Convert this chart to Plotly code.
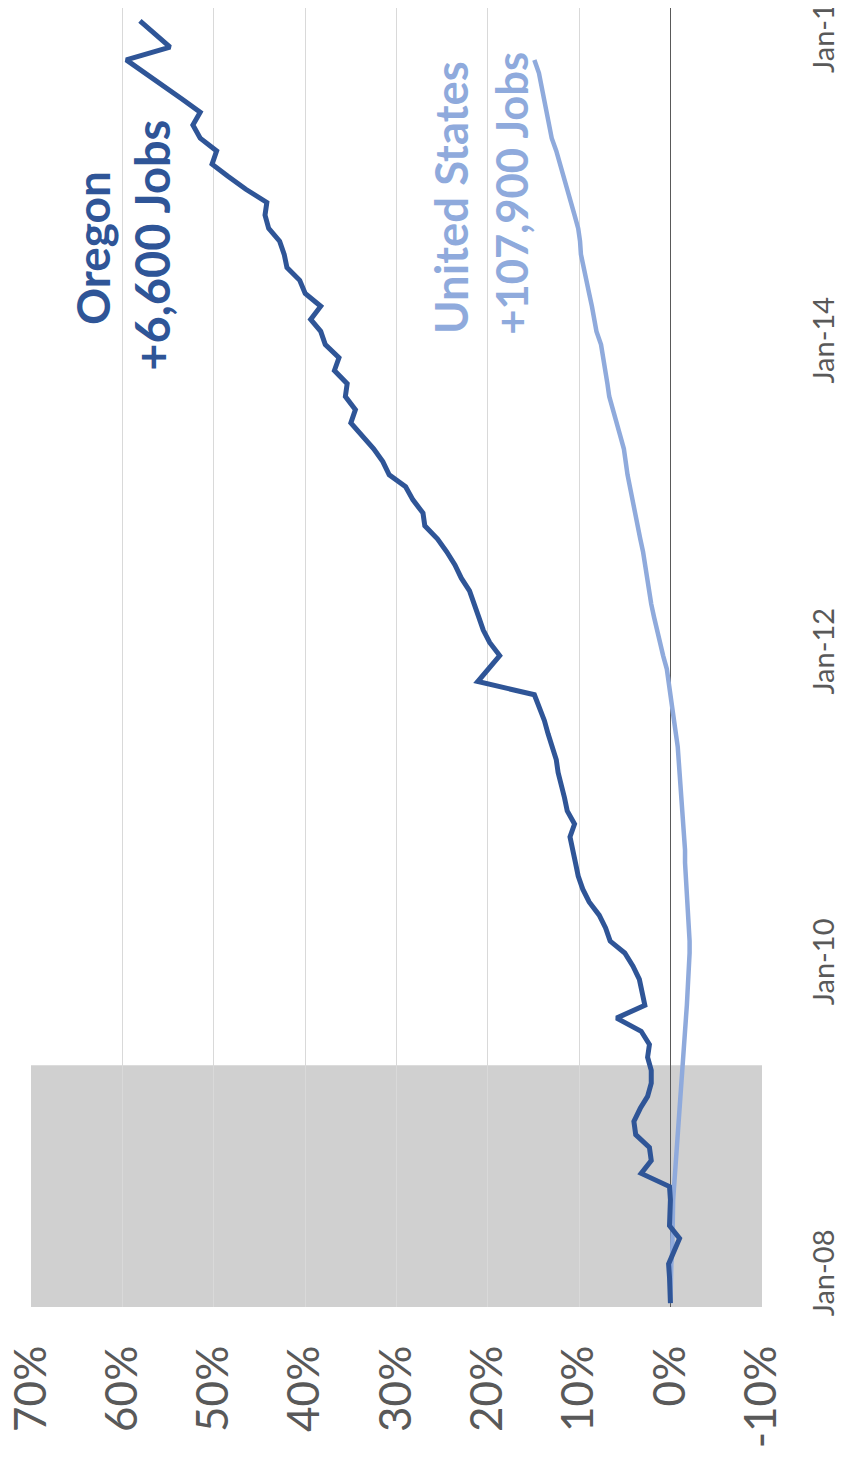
import pandas as pd
import plotly.graph_objects as go

# Monthly cumulative % change in employment (series begins Nov 2007)
oregon_start = "2007-11-01"
oregon_pct = [
    0.0, 0.0, 0.1, 0.2, -0.4, -1.0, 0.1, 0.0, 0.0, 0.1,
    3.2, 2.1, 2.3, 3.8, 4.0, 3.3, 2.5, 2.1, 2.1, 2.5,
    2.3, 3.2, 5.9, 2.8, 3.1, 3.4, 4.1, 5.0, 6.6, 7.1,
    7.8, 8.9, 9.6, 10.1, 10.4, 10.7, 11.0, 10.5, 11.3, 11.6,
    12.0, 12.3, 12.5, 13.0, 13.4, 13.8, 14.3, 14.9, 21.1, 19.9,
    18.7, 19.8, 20.5, 21.0, 21.5, 22.0, 22.9, 23.6, 24.5, 25.5,
    26.9, 27.1, 28.2, 29.0, 30.8, 31.5, 32.5, 33.8, 35.0, 34.5,
    35.6, 35.4, 36.8, 36.3, 37.8, 38.3, 39.4, 38.3, 40.0, 40.6,
    42.0, 42.3, 42.8, 44.0, 44.4, 44.2, 46.5, 48.5, 50.2, 49.7,
    51.5, 52.3, 51.5, 53.5, 55.5, 57.5, 59.6, 54.8, 56.5, 58.1,
]
us_start = "2007-11-01"
us_pct = [
    0.0, 0.0, -0.1, -0.1, -0.2, -0.2, -0.3, -0.3, -0.3, -0.4,
    -0.5, -0.5, -0.6, -0.7, -0.8, -0.9, -1.0, -1.1, -1.2, -1.3,
    -1.5, -1.6, -1.7, -1.8, -1.9, -2.0, -2.0, -2.1, -2.1, -2.0,
    -1.9, -1.8, -1.7, -1.7, -1.6, -1.6, -1.5, -1.4, -1.3, -1.3,
    -1.2, -1.1, -1.0, -0.8, -0.6, -0.4, -0.2, 0.0, 0.2, 0.4,
    0.8, 1.1, 1.4, 1.8, 2.1, 2.3, 2.5, 2.8, 3.0, 3.3,
    3.6, 3.9, 4.2, 4.4, 4.7, 4.9, 5.1, 5.5, 5.9, 6.3,
    6.7, 6.9, 7.1, 7.3, 7.6, 8.1, 8.3, 8.6, 8.9, 9.2,
    9.6, 9.8, 9.9, 10.1, 10.5, 10.9, 11.2, 11.6, 12.1, 12.5,
    13.0, 13.3, 13.6, 13.8, 14.1, 14.4, 14.9,
]
recession_start = "2007-10-23"
recession_end = "2009-05-13"

pct_ticks = [-10, 0, 10, 20, 30, 40, 50, 60, 70]
oregon_label = ["Oregon", "+6,600 Jobs"]
us_label = ["United States", "+107,900 Jobs"]

oregon_dates = pd.date_range(oregon_start, periods=len(oregon_pct), freq="MS")
us_dates = pd.date_range(us_start, periods=len(us_pct), freq="MS")

DARK = "#2F5597"
LIGHT = "#8FAADC"
FONT = "Lato, Open Sans, sans-serif"

fig = go.Figure()
fig.add_trace(go.Scatter(x=us_pct, y=us_dates, mode="lines",
                         line=dict(color=LIGHT, width=4.5), name="United States"))
fig.add_trace(go.Scatter(x=oregon_pct, y=oregon_dates, mode="lines",
                         line=dict(color=DARK, width=5), name="Oregon"))

fig.add_shape(type="rect", xref="paper", yref="y", x0=0, x1=1,
              y0=recession_start, y1=recession_end,
              fillcolor="#D0D0D0", line=dict(width=0), layer="below")

ann = [
    (63.3, 0.8155, oregon_label[0], DARK, 46),
    (56.8, 0.8175, oregon_label[1], DARK, 47),
    (24.1, 0.854, us_label[0], LIGHT, 45.5),
    (17.5, 0.8575, us_label[1], LIGHT, 43.5),
]
for ax, ay, txt, col, sz in ann:
    fig.add_annotation(x=ax, y=ay, xref="x", yref="paper", text="<b>%s</b>" % txt,
                       textangle=-90, showarrow=False, xanchor="center", yanchor="middle",
                       font=dict(family=FONT, size=sz, color=col))

fig.update_layout(
    width=848, height=1461,
    margin=dict(l=23, r=94, t=0, b=162, autoexpand=False),
    paper_bgcolor="white", plot_bgcolor="white",
    showlegend=False,
    xaxis=dict(range=[70.03, -10.03], tickvals=pct_ticks,
               ticktext=["%d%%" % v for v in pct_ticks],
               tickangle=-90, showgrid=True, gridcolor="#D9D9D9", gridwidth=1,
               zeroline=True, zerolinecolor="#595959", zerolinewidth=1,
               showline=False, ticks="outside", ticklen=20, tickcolor="rgba(0,0,0,0)",
               automargin=False, ticklabeloverflow="allow",
               tickfont=dict(family=FONT, size=44, color="#595959")),
    yaxis=dict(range=["2007-10-23", "2016-03-02"], side="right",
               tick0="2008-01-01", dtick="M24", tickformat="%b-%y",
               tickangle=-90, showgrid=False, zeroline=False, showline=False,
               ticks="outside", ticklen=36, tickcolor="rgba(0,0,0,0)",
               automargin=False, ticklabeloverflow="allow",
               tickfont=dict(family=FONT, size=29, color="#595959")),
)

fig.write_html("out.html")
